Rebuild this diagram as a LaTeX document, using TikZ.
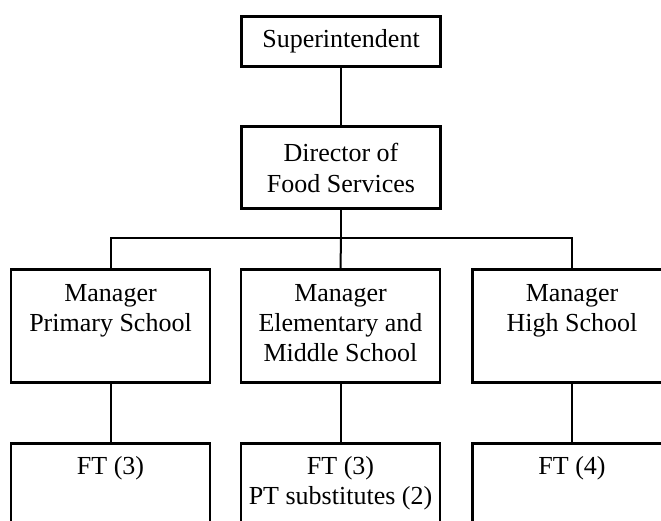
\documentclass[tikz,border=0pt]{standalone}
\usepackage{fontspec}
\setmainfont{Liberation Serif}
\begin{document}
\begin{tikzpicture}[
    x=1pt, y=-1pt,
    unit/.style={draw, line width=2.8pt, inner sep=0pt, align=center, minimum width=199pt,
      font=\fontsize{26}{31}\selectfont},
    tlabel/.style={anchor=north, inner sep=0pt, align=center, font=\fontsize{26}{30}\selectfont},
    link/.style={line width=2pt},
  ]
  \useasboundingbox (0,0) rectangle (661,521);
  \clip (0,0) rectangle (661,521);
  % top of the chart
  \node[unit, minimum height=50.2pt] (sup) at (341,41.5) {Superintendent};
  \node[unit, minimum height=82.2pt] (dir) at (341,167.5) {Director of\\Food Services};
  \coordinate (bar) at (341,238);
  % managers
  \node[unit, minimum height=113.2pt] (mprim) at (110.5,326) {};
  \node[unit, minimum height=113.2pt] (mmid) at (340.5,326) {};
  \node[unit, minimum height=113.2pt] (mhigh) at (572,326) {};
  \node[tlabel] (tprim) at ([yshift=-16.5pt]mprim.north) {Manager\\Primary School};
  \node[tlabel] (tmid) at ([yshift=-16.5pt]mmid.north) {Manager\\Elementary and\\Middle School};
  \node[tlabel] (thigh) at ([yshift=-16.5pt]mhigh.north) {Manager\\High School};
  % staff
  \node[unit, minimum height=113.2pt] (sprim) at (110.5,500) {};
  \node[unit, minimum height=113.2pt] (smid) at (340.5,500) {};
  \node[unit, minimum height=113.2pt] (shigh) at (572,500) {};
  \node[tlabel] (fprim) at ([yshift=-14.5pt]sprim.north) {FT (3)};
  \node[tlabel] (fmid) at ([yshift=-14.5pt]smid.north) {FT (3)\\PT substitutes (2)};
  \node[tlabel] (fhigh) at ([yshift=-14.5pt]shigh.north) {FT (4)};
  % connectors
  \draw[link] (sup) -- (dir);
  \draw[link] (dir) -- (bar);
  \draw[link] (mprim.north) |- (bar) -| (mhigh.north);
  \draw[link] (bar) -- (mmid.north);
  \draw[link] (mprim) -- (sprim);
  \draw[link] (mmid) -- (smid);
  \draw[link] (mhigh) -- (shigh);
\end{tikzpicture}
\end{document}
